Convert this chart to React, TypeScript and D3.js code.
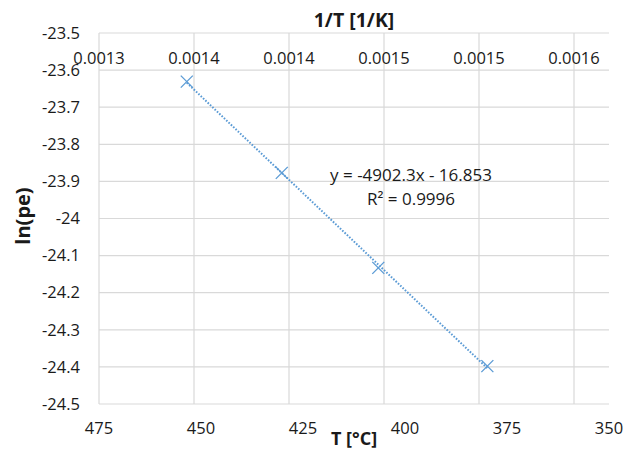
import React from "react";
import * as d3 from "d3";

const invT = [0.0013462, 0.0013962, 0.001447, 0.0015044];
const lnPe = [-23.631, -23.877, -24.133, -24.398];

const topTicks = [0.0013, 0.00135, 0.0014, 0.00145, 0.0015, 0.00155];
const topTickLabels = ["0.0013", "0.0014", "0.0014", "0.0015", "0.0015", "0.0016"];
const bottomTicks = [475, 450, 425, 400, 375, 350];
const yTicks = [-23.5, -23.6, -23.7, -23.8, -23.9, -24, -24.1, -24.2, -24.3, -24.4, -24.5];

const equationText = "y = -4902.3x - 16.853";
const r2Text = "R² = 0.9996";

const W = 638;
const H = 449;
const L = 99, R = 609, T = 33, B = 404;
const FONT = "'Open Sans', 'Liberation Sans', sans-serif";
const BLUE = "#5B9BD5";
const GRID = "#d9d9d9";

export default function App() {
  const x = d3.scaleLinear().domain([0.0013, 0.0013 + (510 / 95) * 0.00005]).range([L, R]);
  const xb = d3.scaleLinear().domain([475, 350]).range([L, R]);
  const y = d3.scaleLinear().domain([-24.5, -23.5]).range([B, T]);

  // linear regression for trendline
  const n = invT.length;
  const mx = d3.mean(invT)!;
  const my = d3.mean(lnPe)!;
  let sxy = 0, sxx = 0;
  for (let i = 0; i < n; i++) {
    sxy += (invT[i] - mx) * (lnPe[i] - my);
    sxx += (invT[i] - mx) ** 2;
  }
  const slope = sxy / sxx;
  const icpt = my - slope * mx;
  const x0 = d3.min(invT)!;
  const x1 = d3.max(invT)!;
  const line = d3.line<[number, number]>().x((d) => x(d[0])).y((d) => y(d[1]));
  const trend = line([
    [x0, slope * x0 + icpt],
    [x1, slope * x1 + icpt],
  ]);

  const fmtY = (v: number) => String(Math.round(v * 10) / 10);

  return (
    <svg
      width={W}
      height={H}
      style={{ position: "absolute", left: 0, top: 0, background: "#fff" }}
      fontFamily={FONT}
    >
      <rect x={0} y={0} width={W} height={H} fill="#fff" />
      {yTicks.map((t, i) => (
        <line key={"h" + i} x1={L} x2={R} y1={y(t)} y2={y(t)} stroke={GRID} strokeWidth={1.2} />
      ))}
      {topTicks.map((t, i) => (
        <line key={"v" + i} x1={x(t)} x2={x(t)} y1={T} y2={B} stroke={GRID} strokeWidth={1.2} />
      ))}
      {yTicks.map((t, i) => (
        <text key={"yl" + i} x={80} y={y(t)} dy="0.35em" textAnchor="end" fontSize={16.5} fill="#1a1a1a">
          {fmtY(t)}
        </text>
      ))}
      {topTicks.map((t, i) => (
        <text key={"tl" + i} x={x(t)} y={58} dy="0.35em" textAnchor="middle" fontSize={16.5} fill="#1a1a1a">
          {topTickLabels[i]}
        </text>
      ))}
      {bottomTicks.map((t, i) => (
        <text key={"bl" + i} x={xb(t)} y={428} dy="0.35em" textAnchor="middle" fontSize={16.5} fill="#1a1a1a">
          {t}
        </text>
      ))}
      <text x={354} y={20} dy="0.35em" textAnchor="middle" fontSize={19.5} fontWeight="bold" fill="#1a1a1a">
        1/T [1/K]
      </text>
      <text x={354} y={439} dy="0.35em" textAnchor="middle" fontSize={18} fontWeight="bold" fill="#1a1a1a">
        T [°C]
      </text>
      <text
        transform={`translate(23,216) rotate(-90)`}
        dy="0.35em"
        textAnchor="middle"
        fontSize={20}
        fontWeight="bold"
        fill="#1a1a1a"
      >
        ln(pe)
      </text>
      <path d={trend || ""} fill="none" stroke={BLUE} strokeWidth={2} strokeDasharray="1.6 1.6" />
      {invT.map((v, i) => {
        const cx = x(v);
        const cy = y(lnPe[i]);
        const s = 6;
        return (
          <g key={"m" + i} stroke={BLUE} strokeWidth={1.3}>
            <line x1={cx - s} y1={cy - s} x2={cx + s} y2={cy + s} />
            <line x1={cx - s} y1={cy + s} x2={cx + s} y2={cy - s} />
          </g>
        );
      })}
      <text x={411} y={175} dy="0.35em" textAnchor="middle" fontSize={17} fill="#1a1a1a">
        {equationText}
      </text>
      <text x={411} y={199} dy="0.35em" textAnchor="middle" fontSize={17} fill="#1a1a1a">
        {r2Text}
      </text>
    </svg>
  );
}
